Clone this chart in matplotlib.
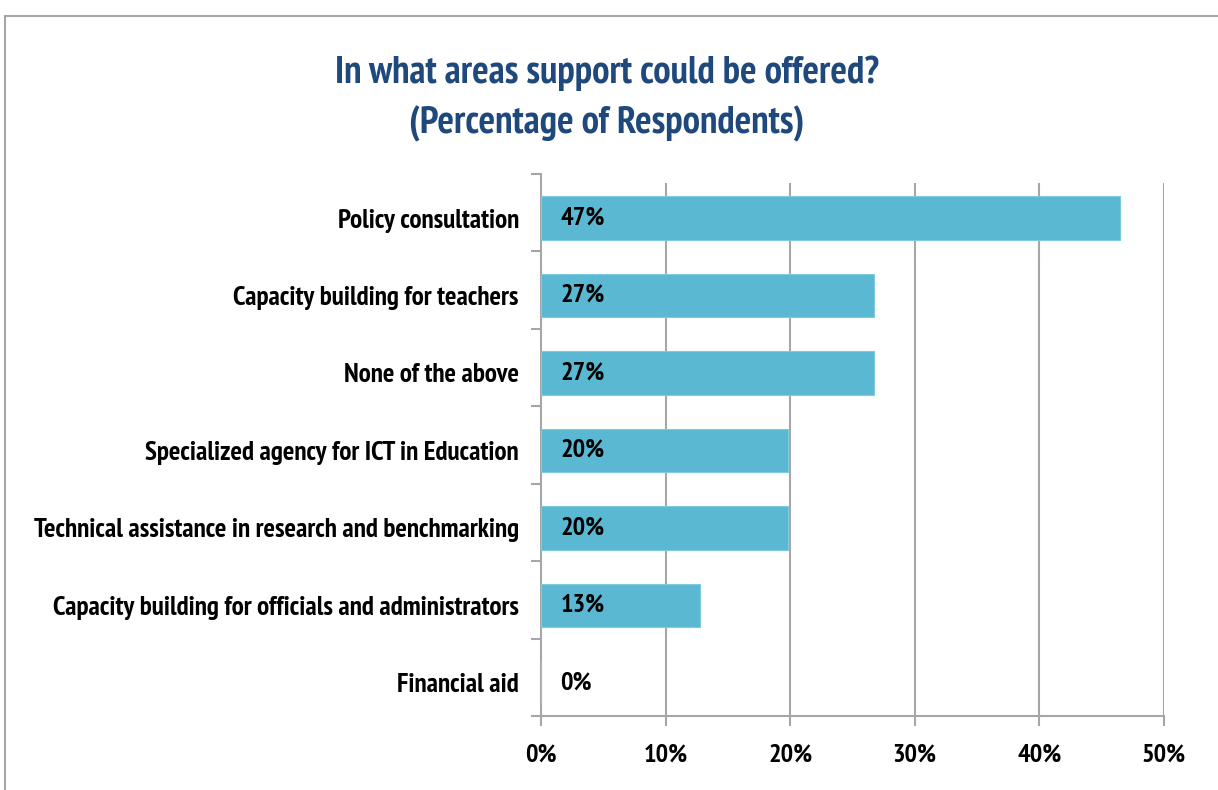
import matplotlib
matplotlib.use("Agg")
import matplotlib.pyplot as plt
import numpy as np
from matplotlib.patches import Rectangle

# data
categories = ["Policy consultation",
              "Capacity building for teachers",
              "None of the above",
              "Specialized agency for ICT in Education",
              "Technical assistance in research and benchmarking",
              "Capacity building for officials and administrators",
              "Financial aid"]
values = [46.5, 26.7, 26.7, 19.8, 19.8, 12.8, 0.0]
value_labels = ["47%", "27%", "27%", "20%", "20%", "13%", "0%"]
xticks = [0, 10, 20, 30, 40, 50]

plt.rcParams['font.family'] = ['PT Sans Narrow', 'DejaVu Sans']

fig = plt.figure(figsize=(12.18, 7.9), dpi=100)
ax = fig.add_axes([541/1218, 1 - 716/790, (1164 - 541)/1218, (716 - 174)/790])

grey = '#a6a6a6'
bar_color = '#5bb8d2'
shift = 0.07  # bars sit a little low in each band, like the original

n = len(categories)
y = np.arange(n)
ax.barh(y, values, height=0.56, color=bar_color, edgecolor='#7ccbe0', linewidth=0.8, zorder=3)

# value labels inside the bars
for yi, lab in zip(y, value_labels):
    ax.text(1.55, yi, lab, va='center', ha='left', fontsize=19, fontweight='bold', zorder=4)

ax.set_xlim(0, 50)
ax.set_ylim(n - 0.5 - shift, -0.5 - shift)

# vertical gridlines, starting just below the top of the axis
ax.vlines(xticks[1:], n - 0.5 - shift, -0.5 - shift + 0.115, color=grey, linewidth=1.5, zorder=0)

ax.set_xticks(xticks)
ax.set_xticklabels([f"{t}%" for t in xticks], fontsize=19, fontweight='bold')
ax.set_yticks(y)
ax.set_yticklabels(categories, fontsize=19.5, fontweight='bold')
ax.tick_params(axis='y', length=0, pad=16)
ax.set_yticks(np.arange(-0.5, n, 1) - shift, minor=True)
ax.tick_params(axis='y', which='minor', length=7, width=1.5, color=grey)
ax.tick_params(axis='x', length=7, width=1.5, color=grey, pad=13)

for s in ['top', 'right']:
    ax.spines[s].set_visible(False)
for s in ['left', 'bottom']:
    ax.spines[s].set_color(grey)
    ax.spines[s].set_linewidth(1.5)

fig.text(607/1218, 1 - 73/790, "In what areas support could be offered?",
         ha='center', va='center', fontsize=28, fontweight='bold', color='#1f497d')
fig.text(607/1218, 1 - 124/790, "(Percentage of Respondents)",
         ha='center', va='center', fontsize=28, fontweight='bold', color='#1f497d')

# outer frame of the chart
fig.patches.append(Rectangle((5/1218, -0.1), 1.2, 1 - 16/790 + 0.1, transform=fig.transFigure,
                             fill=False, edgecolor=grey, linewidth=1.5))

fig.savefig("out.png", dpi=100)
